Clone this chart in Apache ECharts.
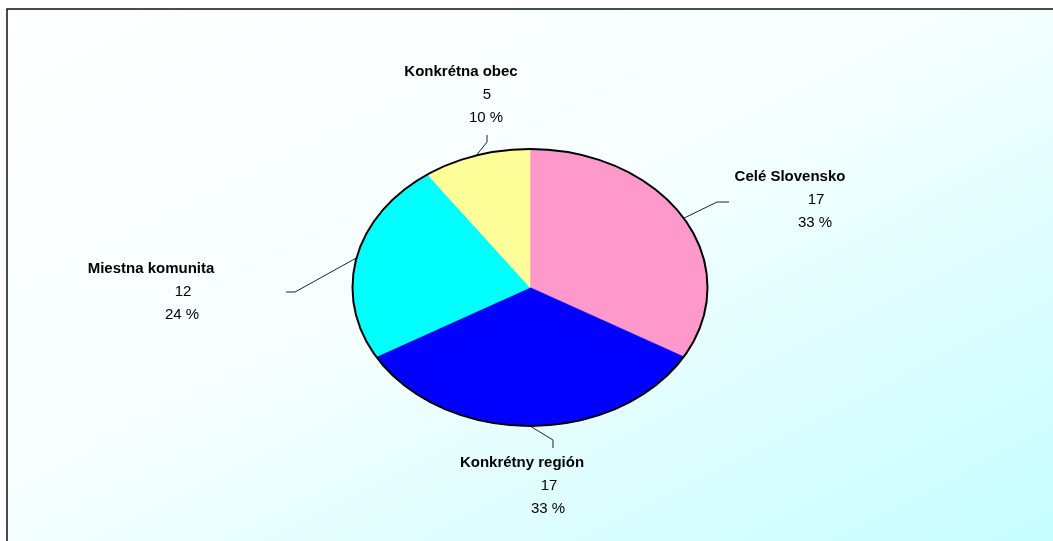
<!DOCTYPE html>
<html>
<head>
<meta charset="utf-8">
<script src="https://cdn.jsdelivr.net/npm/echarts@6/dist/echarts.min.js"></script>
<style>
  html, body { margin: 0; padding: 0; background: #ffffff; }
  #chart { width: 1053px; height: 541px; }
</style>
</head>
<body>
<div id="chart"></div>
<script>
// ---- data ----
const categories = ['Celé Slovensko', 'Konkrétny región', 'Miestna komunita', 'Konkrétna obec'];
const values = [17, 17, 12, 5];
const sliceColors = ['#ff99cc', '#0000ff', '#00ffff', '#ffff99'];

// ---- layout (positions only) ----
const CX = 530, CY = 287.5, RX = 177.5, RY = 138.5;
const labelLayout = [
  { nameX: 790, nameY: 177, valX: 816, elbow: [717, 202], end: [729, 202] },
  { nameX: 522, nameY: 463, valX: 549, elbow: [553, 440], end: [553, 448] },
  { nameX: 151, nameY: 269, valX: 183, elbow: [295, 292], end: [286, 292] },
  { nameX: 461, nameY: 72,  valX: 487, elbow: [487, 142], end: [487, 135] }
];
const LINE_GAP = 23;
const FONT = "'Liberation Sans', Arial, sans-serif";

const total = values.reduce((a, b) => a + b, 0);

const chart = echarts.init(document.getElementById('chart'), null, { renderer: 'canvas' });

function renderItem(params, api) {
  const i = params.dataIndex;
  let before = 0;
  for (let j = 0; j < i; j++) before += values[j];
  const a0 = before / total * Math.PI * 2;
  const a1 = (before + values[i]) / total * Math.PI * 2;
  const mid = (a0 + a1) / 2;
  const sx = CX + RX * Math.sin(mid);
  const sy = CY - RY * Math.cos(mid);
  const L = labelLayout[i];
  const pct = Math.round(values[i] / total * 100) + ' %';
  return {
    type: 'group',
    children: [
      {
        type: 'sector',
        x: CX, y: CY,
        scaleX: RX / RY, scaleY: 1,
        shape: { cx: 0, cy: 0, r0: 0, r: RY,
                 startAngle: -Math.PI / 2 + a0, endAngle: -Math.PI / 2 + a1, clockwise: true },
        style: { fill: sliceColors[i], stroke: sliceColors[i], lineWidth: 0.5 },
        z2: 1
      },
      {
        type: 'polyline',
        shape: { points: [[sx, sy], L.elbow, L.end] },
        style: { stroke: '#222', lineWidth: 1, fill: null },
        z2: 5
      },
      {
        type: 'text',
        style: { text: categories[i], x: L.nameX, y: L.nameY, align: 'center', verticalAlign: 'middle',
                 font: 'bold 15px ' + FONT, fill: '#000' },
        z2: 6
      },
      {
        type: 'text',
        style: { text: String(values[i]), x: L.valX, y: L.nameY + LINE_GAP, align: 'center', verticalAlign: 'middle',
                 font: '15px ' + FONT, fill: '#000' },
        z2: 6
      },
      {
        type: 'text',
        style: { text: pct, x: L.valX - 1, y: L.nameY + 2 * LINE_GAP, align: 'center', verticalAlign: 'middle',
                 font: '15px ' + FONT, fill: '#000' },
        z2: 6
      }
    ]
  };
}

const W = 1046, H = 532;
const k = 2 * W * H / (W * W + H * H);

chart.setOption({
  animation: false,
  backgroundColor: '#ffffff',
  graphic: [
    {
      type: 'rect', z: -10, silent: true,
      shape: { x: 7, y: 9, width: 1070, height: 560 },
      style: {
        fill: {
          type: 'linear', global: true,
          x: 7, y: 9, x2: 7 + H * k, y2: 9 + W * k,
          colorStops: [
            { offset: 0, color: '#ffffff' },
            { offset: 0.45, color: '#f7ffff' },
            { offset: 1, color: '#c6fdff' }
          ]
        },
        stroke: '#111', lineWidth: 1.5
      }
    },
    {
      type: 'ellipse', z: 50, silent: true,
      shape: { cx: CX, cy: CY, rx: RX, ry: RY },
      style: { fill: null, stroke: '#000', lineWidth: 2 }
    }
  ],
  series: [{
    type: 'custom',
    coordinateSystem: 'none',
    renderItem: renderItem,
    data: values.map((v, i) => ({ name: categories[i], value: v })),
    z: 10
  }]
});
</script>
</body>
</html>
